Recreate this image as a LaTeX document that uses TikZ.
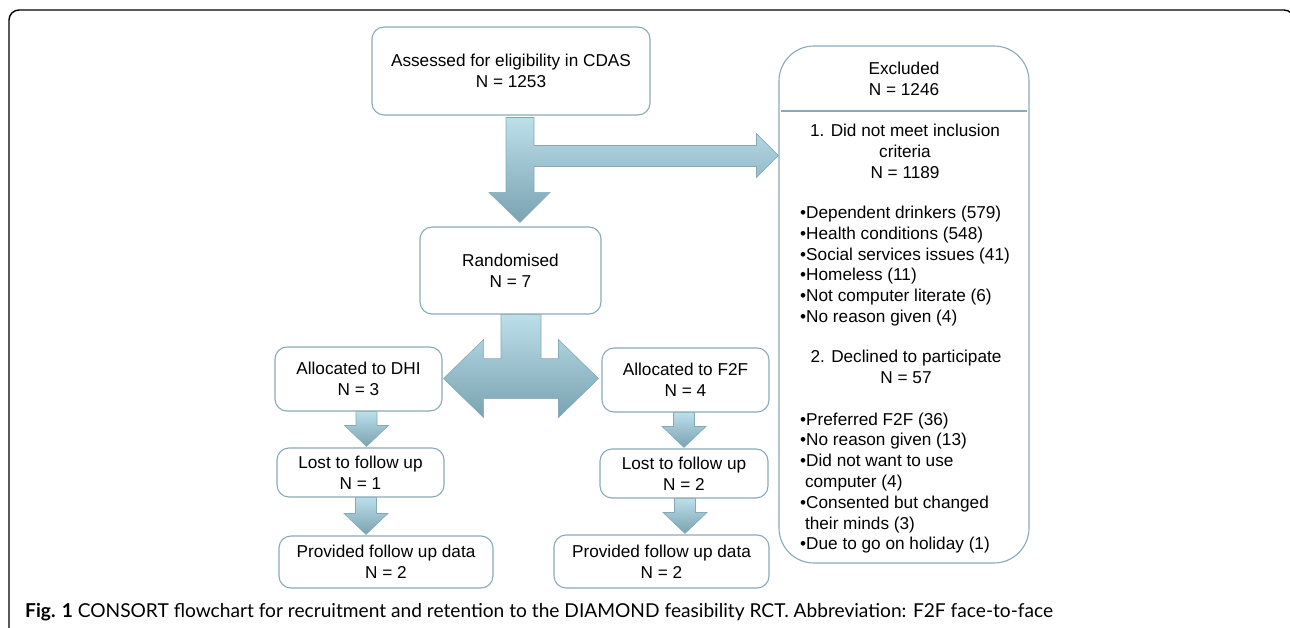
\documentclass[tikz,border=0pt]{standalone}
\usepackage{fontspec}
\setmainfont{Liberation Sans}
\newfontfamily\capfont{Lato}
\usetikzlibrary{calc}
\definecolor{boxline}{HTML}{8AA9B8}
\definecolor{arrowtop}{HTML}{BCDFEA}
\definecolor{arrowbot}{HTML}{7AA2B1}
\definecolor{arrowline}{HTML}{86A9B7}

% straight block arrow from the bottom of one box to the top of the next
\newcommand\downblock[3]{%
  \path[blockarrow] let \p1=([xshift=#3]#1.south), \p2=(#2.north) in
    (\x1-10.5pt,\y1) -- (\x1-10.5pt,\y2+22pt) -- (\x1-22pt,\y2+22pt) -- (\x1,\y2+1pt)
    -- (\x1+22pt,\y2+22pt) -- (\x1+10.5pt,\y2+22pt) -- (\x1+10.5pt,\y1) -- cycle;}

\begin{document}
\begin{tikzpicture}[x=1pt,y=-1pt,
  every node/.style={font=\fontsize{17.2}{20.8}\selectfont},
  box/.style={rounded corners=12pt,draw=boxline,line width=1.1pt,fill=white,align=center,inner sep=0pt},
  txt/.style={align=center,inner sep=0pt},
  note/.style={align=left,inner sep=0pt,anchor=west},
  divider/.style={draw=boxline,line width=1.8pt},
  blockarrow/.style={top color=arrowtop,bottom color=arrowbot,draw=arrowline,line width=0.6pt}
]
\useasboundingbox (0,0) rectangle (1290,628);
\begin{scope}
  \clip (0,0) rectangle (1290,628);
  \draw[line width=1.4pt,rounded corners=10pt] (9,660) -- (9,10) -- (1294,10) -- (1294,660);
\end{scope}

\node[box,minimum width=278pt,minimum height=88pt] (assess) at (511,71) {Assessed for eligibility in CDAS\\N = 1253};
\node[box,minimum width=181pt,minimum height=87pt] (rand) at (510.5,270.5) {Randomised\\N = 7};
\node[box,minimum width=167pt,minimum height=64pt] (dhi) at (358.5,379) {Allocated to DHI\\N = 3};
\node[box,minimum width=167pt,minimum height=64pt] (f2f) at (685.5,380) {Allocated to F2F\\N = 4};
\node[box,minimum width=167pt,minimum height=49pt] (lostdhi) at (360.5,472.5) {Lost to follow up\\N = 1};
\node[box,minimum width=168pt,minimum height=49pt] (lostf2f) at (684,473.5) {Lost to follow up\\N = 2};
\node[box,minimum width=214pt,minimum height=52pt] (provdhi) at (386,562) {Provided follow up data\\N = 2};
\node[box,minimum width=215pt,minimum height=53pt] (provf2f) at (661.5,561.5) {Provided follow up data\\N = 2};

% excluded box
\node[box,rounded corners=35pt,minimum width=250pt,minimum height=517pt] (excl) at (904,304.5) {};
\node[txt] (exhead) at (904,78.5) {Excluded\\N = 1246};
\draw[divider] ([xshift=3pt]excl.west |- 0,111) -- ([xshift=-3pt]excl.east |- 0,111);
\node[txt] (crit) at (905,151.5) {1. Did not meet inclusion\\criteria\\N = 1189};
\node[note] (critlist) at (800,266) {•Dependent drinkers (579)\\•Health conditions (548)\\•Social services issues (41)\\•Homeless (11)\\•Not computer literate (6)\\•No reason given (4)};
\node[txt] (decl) at (906,367) {2. Declined to participate\\N = 57};
\node[note] (decllist) at (800,483) {•Preferred F2F (36)\\•No reason given (13)\\•Did not want to use\\\hspace*{0.28em}computer (4)\\•Consented but changed\\\hspace*{0.28em}their minds (3)\\•Due to go on holiday (1)};

% block arrows
\path[blockarrow] let \p1=([xshift=9pt]assess.south), \p2=(rand.north), \p3=(excl.west) in
  (\x1-14pt,\y1-2pt) -- (\x1-14pt,\y2+34pt) -- (\x1-31pt,\y2+34pt) -- (\x1,\y2+4pt)
  -- (\x1+30pt,\y2+34pt) -- (\x1+14pt,\y2+34pt) -- (\x1+14pt,\y1-51pt) -- (\x3-22pt,\y1-51pt)
  -- (\x3-22pt,\y1-62pt) -- (\x3,\y1-40pt) -- (\x3-22pt,\y1-18pt) -- (\x3-22pt,\y1-30pt)
  -- (\x1+14pt,\y1-30pt) -- (\x1+14pt,\y1-2pt) -- cycle;
\path[blockarrow] let \p1=([xshift=10.5pt]rand.south), \p2=(dhi.east), \p3=(f2f.west) in
  (\x1-20pt,\y1) -- (\x1-20pt,\y1-44pt) -- (\x2+41pt,\y1-44pt) -- (\x2+41pt,\y1-25pt)
  -- (\x2+1pt,\y1-64pt) -- (\x2+41pt,\y1-103pt) -- (\x2+41pt,\y1-84pt) -- (\x3-43pt,\y1-84pt)
  -- (\x3-43pt,\y1-103pt) -- (\x3-3pt,\y1-64pt) -- (\x3-43pt,\y1-25pt) -- (\x3-43pt,\y1-44pt)
  -- (\x1+20pt,\y1-44pt) -- (\x1+20pt,\y1) -- cycle;
\downblock{dhi}{lostdhi}{8pt}
\downblock{lostdhi}{provdhi}{5.5pt}
\downblock{f2f}{lostf2f}{-1.5pt}
\downblock{lostf2f}{provf2f}{1pt}

\node[anchor=west,inner sep=0pt,font=\capfont\fontsize{19.15}{22}\selectfont] (caption) at (25,612)
  {\textbf{Fig. 1} CONSORT flowchart for recruitment and retention to the DIAMOND feasibility RCT. Abbreviation: F2F face-to-face};
\end{tikzpicture}
\end{document}
